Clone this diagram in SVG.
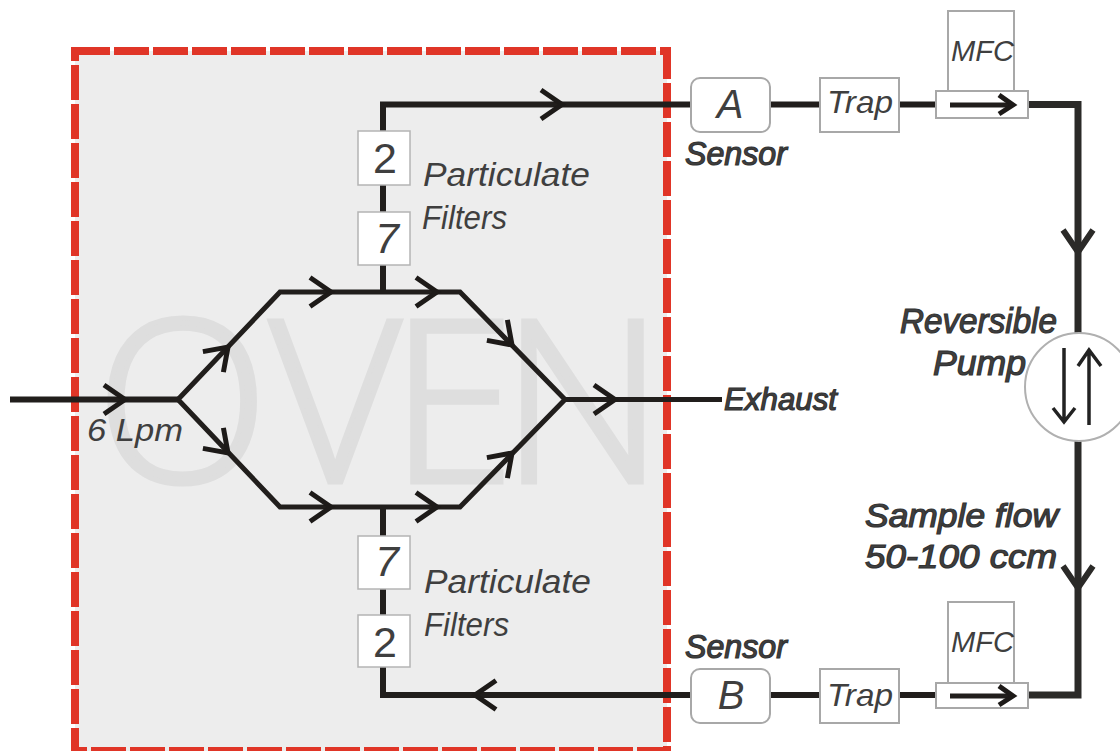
<svg xmlns="http://www.w3.org/2000/svg" width="1120" height="751" viewBox="0 0 1120 751">
<style>
text{font-family:"Liberation Sans",Arial,sans-serif;font-style:italic}
.pipe{fill:none;stroke:#211e1c;stroke-width:5;stroke-linejoin:miter}
.thick{stroke-width:6}
.trunk{fill:none;stroke:#2b2a28;stroke-width:7}
.head{fill:none;stroke:#1d1a18;stroke-width:5}
.box{fill:#fff;stroke:#a8a8a8;stroke-width:2}
.wbox{fill:#fff;stroke:#b4b4b4;stroke-width:1.5}
.thin{fill:#3f3f3f}
.bold{fill:#404040;stroke:#333;stroke-width:1.2}
.mid{text-anchor:middle}
.up{font-style:normal}
</style>
<defs>
<polyline id="chev" class="head" points="-21,-14.500 0,0 -21,14.500"/>
<polyline id="chevL" class="trunk" points="-15,-22 0,0 15,-22" style="stroke-width:6"/>
</defs>
<g id="oven">
<rect x="75" y="51" width="592" height="700" fill="#ededed" stroke="#e03527" stroke-width="8" stroke-dasharray="35 4"/>
<text x="96 270 390 501" y="482" font-size="226" fill="#dedede" stroke="#dedede" stroke-width="5" style="font-family:'Open Sans','Liberation Sans',sans-serif;font-style:normal;font-weight:300">OVEN</text>
</g>
<g id="connectors">
<path class="pipe thick" d="M10 399.500H178M692 104.500H383V292M383 507V695H692"/>
<path class="pipe" d="M178 399.500L280 292H460L565 399.500L460 507H280L178 399.500M565 399.500H722"/>
<path class="pipe thick" d="M770 104.500H822M900 104.500H937M770 695H822M900 695H937"/>
<path class="trunk" d="M1028 104.500H1078V335M1078 440V695H1028"/>
<use href="#chev" transform="translate(125 399.500)"/>
<use href="#chev" transform="translate(228 347) rotate(-45)"/>
<use href="#chev" transform="translate(228 453) rotate(45)"/>
<use href="#chev" transform="translate(331 292)"/>
<use href="#chev" transform="translate(437 292)"/>
<use href="#chev" transform="translate(331 507)"/>
<use href="#chev" transform="translate(437 507)"/>
<use href="#chev" transform="translate(512 345) rotate(45)"/>
<use href="#chev" transform="translate(512 453) rotate(-45)"/>
<use href="#chev" transform="translate(615 399.500)"/>
<use href="#chev" transform="translate(562 104.500)"/>
<use href="#chev" transform="translate(475 695) rotate(180)"/>
<use href="#chevL" transform="translate(1078 252)"/>
<use href="#chevL" transform="translate(1078 588)"/>
</g>
<g id="filter-2-top"><rect class="wbox" x="358" y="131" width="52" height="54"/><text class="thin mid up" x="385" y="173" font-size="43">2</text></g>
<g id="filter-7-top"><rect class="wbox" x="358" y="212" width="52" height="53"/><text class="thin mid" x="387" y="253" font-size="43">7</text></g>
<g id="filter-7-bottom"><rect class="wbox" x="358" y="536" width="52" height="53"/><text class="thin mid" x="387" y="576" font-size="43">7</text></g>
<g id="filter-2-bottom"><rect class="wbox" x="358" y="615" width="52" height="52"/><text class="thin mid up" x="385" y="657" font-size="43">2</text></g>
<g id="label-filters-top"><text class="thin" x="423" y="186" font-size="34" textLength="167" lengthAdjust="spacingAndGlyphs">Particulate</text><text class="thin" x="422" y="229" font-size="34" textLength="85" lengthAdjust="spacingAndGlyphs">Filters</text></g>
<g id="label-filters-bottom"><text class="thin" x="424" y="593" font-size="34" textLength="167" lengthAdjust="spacingAndGlyphs">Particulate</text><text class="thin" x="424" y="636" font-size="34" textLength="85" lengthAdjust="spacingAndGlyphs">Filters</text></g>
<g id="label-flow-in"><text class="thin" x="87" y="441" font-size="32" textLength="96" lengthAdjust="spacingAndGlyphs">6 Lpm</text></g>
<g id="label-exhaust"><text class="bold" x="724" y="410" font-size="31" textLength="113" lengthAdjust="spacingAndGlyphs">Exhaust</text></g>
<g id="sensor-a"><rect class="box" x="691" y="78" width="79" height="54" rx="9"/><text class="thin mid" x="730" y="118" font-size="40">A</text><text class="bold" x="685" y="165" font-size="33" textLength="102" lengthAdjust="spacingAndGlyphs">Sensor</text></g>
<g id="trap-a"><rect class="box" x="820" y="78" width="79" height="54"/><text class="thin" x="827" y="113" font-size="32" textLength="66" lengthAdjust="spacingAndGlyphs">Trap</text></g>
<g id="mfc-a"><rect class="box" x="948" y="11" width="66" height="80"/><rect class="box" x="936" y="91" width="92" height="27"/><text class="thin" x="951" y="61" font-size="29" textLength="63" lengthAdjust="spacingAndGlyphs">MFC</text><path class="pipe" d="M950 105H1012"/><polyline class="head" points="999,95 1013,105 999,114"/></g>
<g id="pump"><circle cx="1079" cy="387" r="54" fill="#fff" stroke="#b0b0b0" stroke-width="2"/><path fill="none" stroke="#222" stroke-width="3.500" d="M1064 348V422M1053 408L1064 422L1075 408M1089 425V350M1078 366L1089 350L1101 366"/></g>
<g id="label-pump"><text class="bold" x="900" y="333" font-size="35" textLength="157" lengthAdjust="spacingAndGlyphs">Reversible</text><text class="bold" x="933" y="375" font-size="35" textLength="93" lengthAdjust="spacingAndGlyphs">Pump</text></g>
<g id="label-sample"><text class="bold" x="865" y="527" font-size="33" textLength="193" lengthAdjust="spacingAndGlyphs">Sample flow</text><text class="bold" x="865" y="568" font-size="33" textLength="192" lengthAdjust="spacingAndGlyphs">50-100 ccm</text></g>
<g id="sensor-b"><rect class="box" x="691" y="669" width="79" height="54" rx="9"/><text class="thin mid" x="731" y="709" font-size="40">B</text><text class="bold" x="685" y="658" font-size="33" textLength="102" lengthAdjust="spacingAndGlyphs">Sensor</text></g>
<g id="trap-b"><rect class="box" x="820" y="669" width="79" height="54"/><text class="thin" x="827" y="706" font-size="32" textLength="66" lengthAdjust="spacingAndGlyphs">Trap</text></g>
<g id="mfc-b"><rect class="box" x="948" y="602" width="66" height="81"/><rect class="box" x="936" y="683" width="92" height="25"/><text class="thin" x="951" y="652" font-size="29" textLength="63" lengthAdjust="spacingAndGlyphs">MFC</text><path class="pipe" d="M950 696H1012"/><polyline class="head" points="999,686 1013,696 999,705"/></g>
</svg>
